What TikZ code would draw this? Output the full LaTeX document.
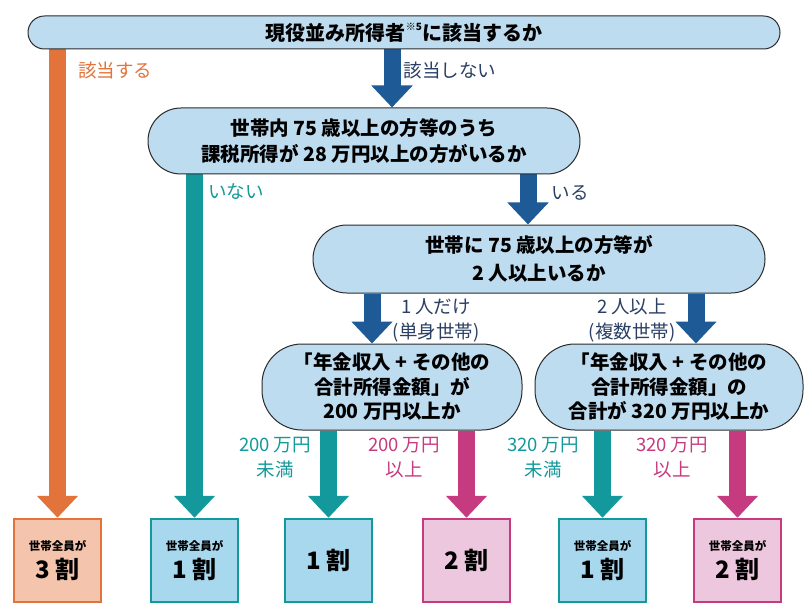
\documentclass[tikz,border=0pt]{standalone}
\usepackage{fontspec}
\setmainfont{Noto Sans CJK JP}
\usetikzlibrary{arrows.meta,backgrounds}
\definecolor{pillfill}{HTML}{BDDCF0}
\definecolor{pillline}{HTML}{2B2B2B}
\definecolor{navy}{HTML}{1D5A96}
\definecolor{tealc}{HTML}{13999B}
\definecolor{magc}{HTML}{C63B80}
\definecolor{orngc}{HTML}{E2733A}
\definecolor{boxblue}{HTML}{A8D8EE}
\definecolor{boxpink}{HTML}{EDC7DE}
\definecolor{boxorange}{HTML}{F4C4AC}
\definecolor{labnavy}{HTML}{2A3F63}
\begin{document}
\begin{tikzpicture}[x=1pt,y=-1pt,
  pill/.style={draw=pillline, line width=1pt, fill=pillfill, inner sep=0pt, align=center},
  res/.style={draw=#1, line width=2.5pt, minimum width=87pt, minimum height=83pt, inner sep=0pt, align=center},
  fat/.style={line width=17pt, draw=#1, -{Triangle[width=40pt,length=22pt]}},
  lab/.style={text=#1, font=\fontsize{18.5}{25}\selectfont, align=center, inner sep=0pt},
]
\useasboundingbox (0,0) rectangle (809,607);

% decision pills
\node[pill, minimum width=752pt, minimum height=33pt, rounded corners=16.4pt,
      font=\bfseries\fontsize{20}{24}\selectfont] (P1) at (404,32.5)
  {現役並み所得者\raisebox{0.5em}{\fontsize{10}{10}\selectfont ※5}に該当するか};
\node[pill, minimum width=432pt, minimum height=66pt, rounded corners=32.9pt,
      font=\bfseries\fontsize{19.5}{26}\selectfont] (P2) at (364,141)
  {世帯内 75 歳以上の方等のうち\\課税所得が 28 万円以上の方がいるか};
\node[pill, minimum width=452pt, minimum height=68pt, rounded corners=33.9pt,
      font=\bfseries\fontsize{19.5}{28}\selectfont] (P3) at (539,259)
  {世帯に 75 歳以上の方等が\\2 人以上いるか};
\node[pill, minimum width=260pt, minimum height=86pt, rounded corners=40pt,
      font=\bfseries\fontsize{19.5}{24.5}\selectfont] (P4) at (392,387)
  {「年金収入 + その他の\\合計所得金額」が\\200 万円以上か};
\node[pill, minimum width=268pt, minimum height=86pt, rounded corners=40pt,
      font=\bfseries\fontsize{19.5}{24.5}\selectfont] (P5) at (669,387)
  {「年金収入 + その他の\\合計所得金額」の\\合計が 320 万円以上か};

% result boxes
\node[res=orngc, fill=boxorange] (B1) at (57.5,560.5)
  {{\fontsize{11.5}{13}\selectfont\bfseries 世帯全員が}\\[6pt]{\fontsize{24}{26}\selectfont\bfseries 3 割}};
\node[res=tealc, fill=boxblue] (B2) at (194.5,560.5)
  {{\fontsize{11.5}{13}\selectfont\bfseries 世帯全員が}\\[6pt]{\fontsize{24}{26}\selectfont\bfseries 1 割}};
\node[res=tealc, fill=boxblue, font=\bfseries\fontsize{24}{26}\selectfont] (B3) at (328.5,560.5) {1 割};
\node[res=magc, fill=boxpink, font=\bfseries\fontsize{24}{26}\selectfont] (B4) at (466.5,560.5) {2 割};
\node[res=tealc, fill=boxblue] (B5) at (602.5,560.5)
  {{\fontsize{11.5}{13}\selectfont\bfseries 世帯全員が}\\[6pt]{\fontsize{24}{26}\selectfont\bfseries 1 割}};
\node[res=magc, fill=boxpink] (B6) at (737.5,560.5)
  {{\fontsize{11.5}{13}\selectfont\bfseries 世帯全員が}\\[6pt]{\fontsize{24}{26}\selectfont\bfseries 2 割}};

% connectors
\coordinate (xa) at (392,0);
\coordinate (xb) at (528,0);
\coordinate (xc) at (372,0);
\coordinate (xd) at (696,0);
\begin{scope}[on background layer]
\fill[white] (0,0) rectangle (809,607);
\draw[fat=orngc] (P1.south -| B1.north) -- (B1.north);
\draw[fat=navy] (P1.south -| xa) -- (P2.north -| xa);
\draw[fat=tealc] (P2.south -| B2.north) -- (B2.north);
\draw[fat=navy] (P2.south -| xb) -- (P3.north -| xb);
\draw[fat=navy] (P3.south -| xc) -- (P4.north -| xc);
\draw[fat=navy] (P3.south -| xd) -- (P5.north -| xd);
\draw[fat=tealc] (P4.south -| B3.north) -- (B3.north);
\draw[fat=magc] (P4.south -| B4.north) -- (B4.north);
\draw[fat=tealc] (P5.south -| B5.north) -- (B5.north);
\draw[fat=magc] (P5.south -| B6.north) -- (B6.north);
\end{scope}

% labels
\node[lab=orngc] (L1) at (115,70) {該当する};
\node[lab=labnavy] (L2) at (450,70) {該当しない};
\node[lab=tealc] (L3) at (236,192) {いない};
\node[lab=labnavy] (L4) at (570,193) {いる};
\node[lab=labnavy] (L5) at (436,320) {1 人だけ\\(単身世帯)};
\node[lab=labnavy] (L6) at (632,320) {2 人以上\\(複数世帯)};
\node[lab=tealc] (L7) at (275,458) {200 万円\\未満};
\node[lab=magc] (L8) at (404,458) {200 万円\\以上};
\node[lab=tealc] (L9) at (543,458) {320 万円\\未満};
\node[lab=magc] (L10) at (672,458) {320 万円\\以上};
\end{tikzpicture}
\end{document}
